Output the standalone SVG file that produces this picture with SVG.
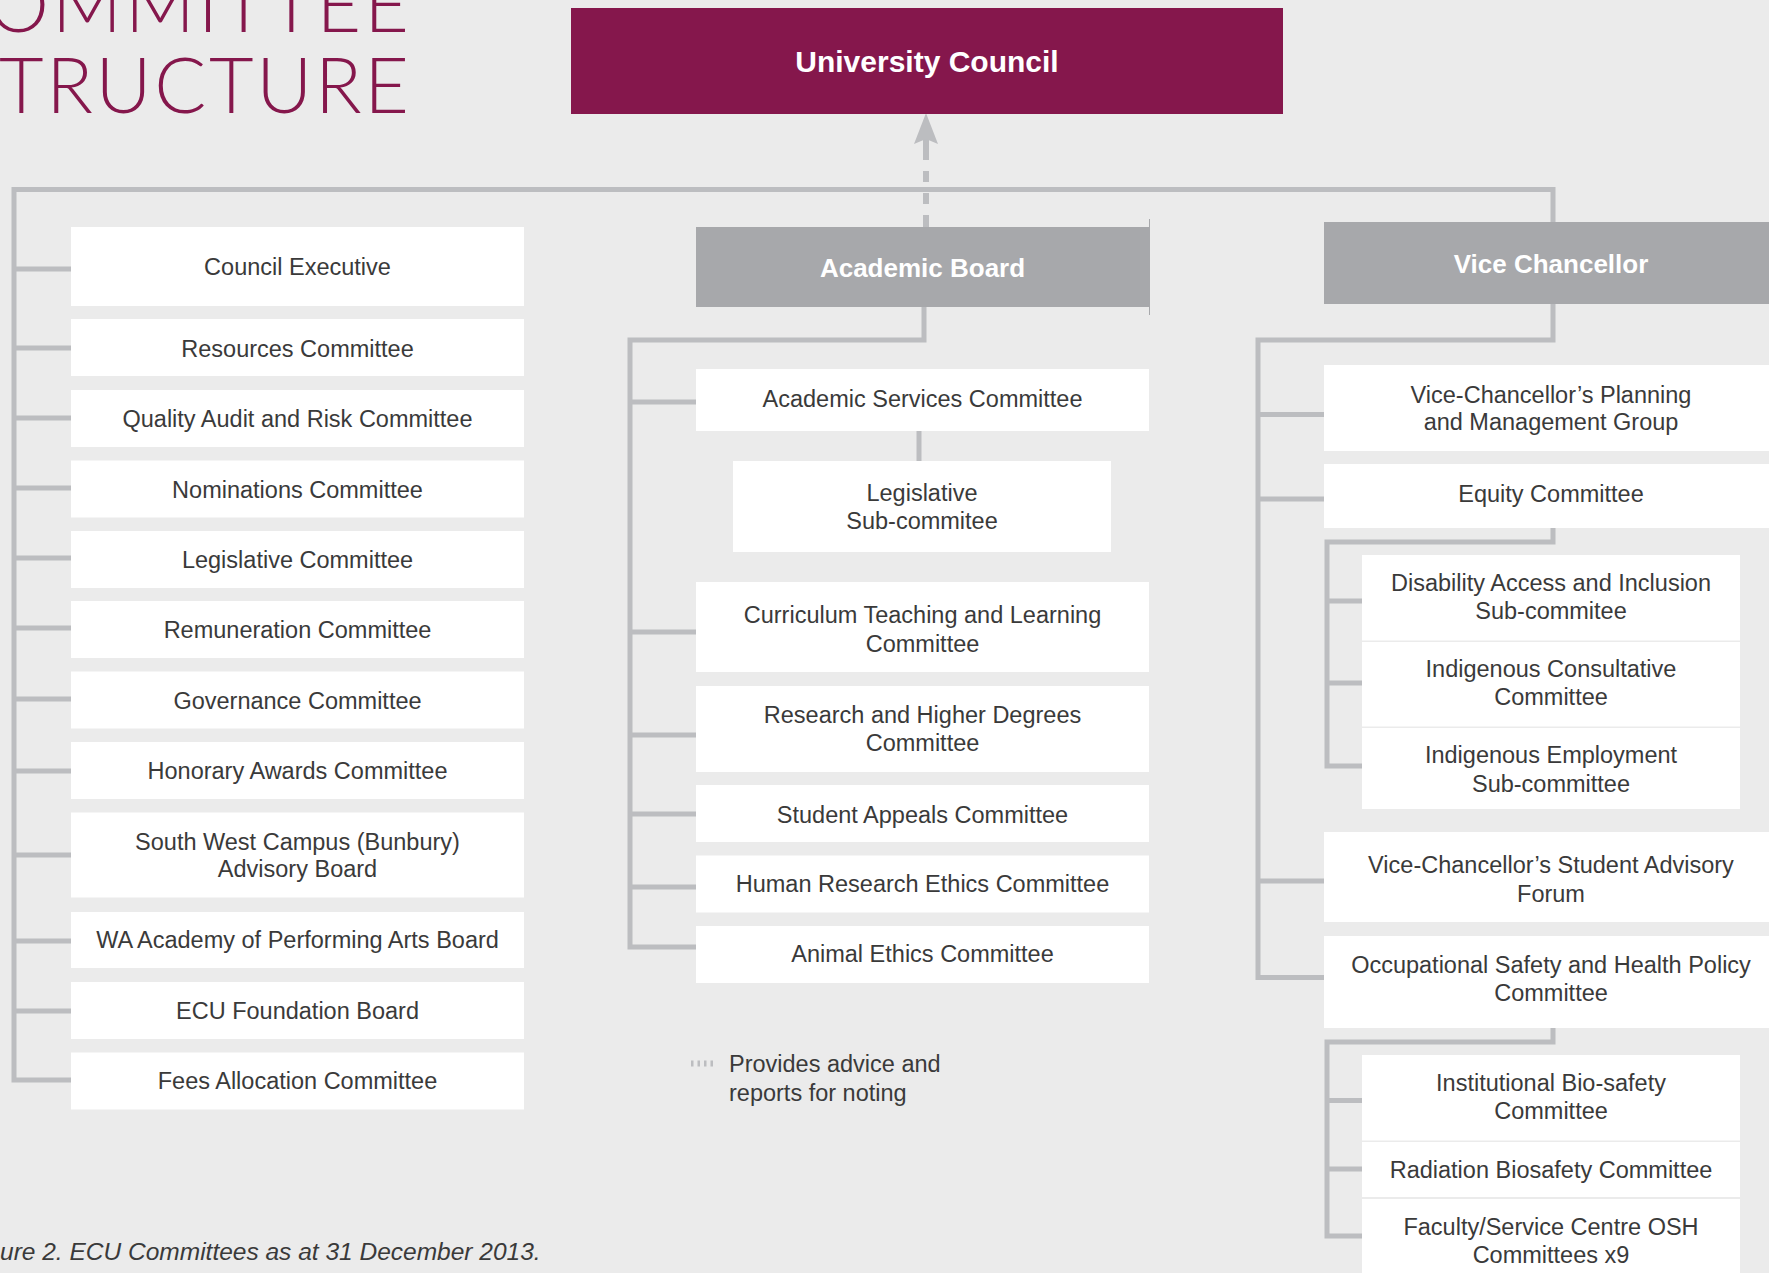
<svg xmlns="http://www.w3.org/2000/svg" width="1769" height="1273" viewBox="0 0 1769 1273">
<style>
.bg{fill:#ebebeb}
.box{fill:#ffffff}
.hdr{fill:#a7a8ab}
.uc{fill:#85174c}
.lbl{font-family:"Liberation Sans",Arial,sans-serif;font-size:23.5px;fill:#3a3a3a;text-anchor:middle}
.hl{font-family:"Liberation Sans",Arial,sans-serif;font-weight:bold;fill:#ffffff;text-anchor:middle}
.conn{fill:none;stroke:#bcbdc0;stroke-width:5;stroke-linejoin:miter;stroke-linecap:butt}
.title{font-family:Lato,"Open Sans",sans-serif;font-weight:300;font-size:77px;fill:#85174c}
.leg{font-family:"Liberation Sans",Arial,sans-serif;font-size:23.5px;fill:#3a3a3a}
.cap{font-family:"Liberation Sans",Arial,sans-serif;font-size:24.5px;font-style:italic;fill:#3a3a3a}
</style>
<rect class="bg" x="0" y="0" width="1769" height="1273"/>

<g id="title">
<text class="title" x="-12" y="32" textLength="421" lengthAdjust="spacing">OMMITTEE</text>
<text class="title" x="-1" y="113" textLength="410" lengthAdjust="spacing">TRUCTURE</text>
</g>

<g id="connectors">
<path class="conn" d="M71,1080 H14 V189.5 H1553 V222"/>
<path class="conn" d="M14,269 H71 M14,348 H71 M14,418 H71 M14,488 H71 M14,558 H71 M14,628 H71 M14,699 H71 M14,771 H71 M14,855 H71 M14,941 H71 M14,1011 H71"/>
<path class="conn" d="M924,307 V340 H630 V947 H696"/>
<path class="conn" d="M630,402 H696 M630,632 H696 M630,735 H696 M630,814 H696 M630,887 H696"/>
<path class="conn" d="M919,431 V461"/>
<path class="conn" d="M1553,304 V340 H1258 V977.5 H1324"/>
<path class="conn" d="M1258,414.5 H1324 M1258,499 H1324 M1258,881 H1324"/>
<path class="conn" d="M1553,528 V542 H1327 V766 H1362 M1327,601 H1362 M1327,683 H1362"/>
<path class="conn" d="M1553,1028 V1042 H1327 V1236 H1362 M1327,1100.5 H1362 M1327,1169 H1362"/>
<path fill="none" stroke="#bcbdc0" stroke-width="6" d="M926,227 V215 M926,204 V193 M926,182 V171 M926,160 V138"/>
<polygon fill="#bcbdc0" points="926,113 938,144 926,139 914,144"/>
<line x1="691" y1="1063.5" x2="716" y2="1063.5" stroke="#bcbdc0" stroke-width="6" stroke-dasharray="2.5 4"/>
</g>

<g id="university-council">
<rect class="uc" x="571" y="8" width="712" height="106"/>
<text class="hl" x="927" y="72" font-size="30">University Council</text>
</g>

<g id="academic-board">
<rect class="hdr" x="696" y="227" width="453" height="80"/>
<line x1="1149.5" y1="219" x2="1149.5" y2="315" stroke="#a7a8ab" stroke-width="1"/>
<text class="hl" x="922.5" y="277" font-size="26">Academic Board</text>
</g>

<g id="vice-chancellor">
<rect class="hdr" x="1324" y="222" width="454" height="82"/>
<text class="hl" x="1551" y="273" font-size="26">Vice Chancellor</text>
</g>

<g id="council-executive"><rect class="box" x="71" y="227" width="453" height="79"/><text class="lbl" x="297.5" y="275">Council Executive</text></g>
<g id="resources-committee"><rect class="box" x="71" y="319" width="453" height="57"/><text class="lbl" x="297.5" y="356.5">Resources Committee</text></g>
<g id="quality-audit"><rect class="box" x="71" y="390" width="453" height="57"/><text class="lbl" x="297.5" y="427">Quality Audit and Risk Committee</text></g>
<g id="nominations"><rect class="box" x="71" y="460.5" width="453" height="57"/><text class="lbl" x="297.5" y="497.5">Nominations Committee</text></g>
<g id="legislative-committee"><rect class="box" x="71" y="531" width="453" height="57"/><text class="lbl" x="297.5" y="568">Legislative Committee</text></g>
<g id="remuneration"><rect class="box" x="71" y="601" width="453" height="57"/><text class="lbl" x="297.5" y="638">Remuneration Committee</text></g>
<g id="governance"><rect class="box" x="71" y="671.5" width="453" height="57"/><text class="lbl" x="297.5" y="708.5">Governance Committee</text></g>
<g id="honorary-awards"><rect class="box" x="71" y="742" width="453" height="57"/><text class="lbl" x="297.5" y="779">Honorary Awards Committee</text></g>
<g id="south-west-campus"><rect class="box" x="71" y="812.5" width="453" height="85"/><text class="lbl" x="297.5" y="850">South West Campus (Bunbury)</text><text class="lbl" x="297.5" y="877">Advisory Board</text></g>
<g id="waapa"><rect class="box" x="71" y="912" width="453" height="56"/><text class="lbl" x="297.5" y="948">WA Academy of Performing Arts Board</text></g>
<g id="ecu-foundation"><rect class="box" x="71" y="982" width="453" height="57"/><text class="lbl" x="297.5" y="1019">ECU Foundation Board</text></g>
<g id="fees-allocation"><rect class="box" x="71" y="1052.5" width="453" height="57"/><text class="lbl" x="297.5" y="1089">Fees Allocation Committee</text></g>

<g id="academic-services"><rect class="box" x="696" y="369" width="453" height="62"/><text class="lbl" x="922.5" y="407">Academic Services Committee</text></g>
<g id="legislative-sub"><rect class="box" x="733" y="461" width="378" height="91"/><text class="lbl" x="922" y="501">Legislative</text><text class="lbl" x="922" y="529">Sub-commitee</text></g>
<g id="curriculum"><rect class="box" x="696" y="582" width="453" height="90"/><text class="lbl" x="922.5" y="623">Curriculum Teaching and Learning</text><text class="lbl" x="922.5" y="651.5">Committee</text></g>
<g id="research-higher"><rect class="box" x="696" y="686" width="453" height="86"/><text class="lbl" x="922.5" y="722.5">Research and Higher Degrees</text><text class="lbl" x="922.5" y="751">Committee</text></g>
<g id="student-appeals"><rect class="box" x="696" y="785" width="453" height="57"/><text class="lbl" x="922.5" y="822.5">Student Appeals Committee</text></g>
<g id="human-research"><rect class="box" x="696" y="855.5" width="453" height="57"/><text class="lbl" x="922.5" y="892">Human Research Ethics Committee</text></g>
<g id="animal-ethics"><rect class="box" x="696" y="926" width="453" height="57"/><text class="lbl" x="922.5" y="962">Animal Ethics Committee</text></g>

<g id="vc-planning"><rect class="box" x="1324" y="365" width="454" height="86"/><text class="lbl" x="1551" y="403">Vice-Chancellor’s Planning</text><text class="lbl" x="1551" y="430">and Management Group</text></g>
<g id="equity"><rect class="box" x="1324" y="464" width="454" height="64"/><text class="lbl" x="1551" y="502">Equity Committee</text></g>
<g id="disability"><rect class="box" x="1362" y="555" width="378" height="85.5"/><text class="lbl" x="1551" y="591">Disability Access and Inclusion</text><text class="lbl" x="1551" y="619">Sub-commitee</text></g>
<g id="indigenous-consultative"><rect class="box" x="1362" y="642" width="378" height="84.5"/><text class="lbl" x="1551" y="676.5">Indigenous Consultative</text><text class="lbl" x="1551" y="705">Committee</text></g>
<g id="indigenous-employment"><rect class="box" x="1362" y="728" width="378" height="81"/><text class="lbl" x="1551" y="763">Indigenous Employment</text><text class="lbl" x="1551" y="791.5">Sub-committee</text></g>
<g id="vc-student-advisory"><rect class="box" x="1324" y="832" width="454" height="90"/><text class="lbl" x="1551" y="873">Vice-Chancellor’s Student Advisory</text><text class="lbl" x="1551" y="901.5">Forum</text></g>
<g id="osh-policy"><rect class="box" x="1324" y="936" width="454" height="92"/><text class="lbl" x="1551" y="972.5">Occupational Safety and Health Policy</text><text class="lbl" x="1551" y="1001">Committee</text></g>
<g id="bio-safety"><rect class="box" x="1362" y="1055" width="378" height="85.5"/><text class="lbl" x="1551" y="1090.5">Institutional Bio-safety</text><text class="lbl" x="1551" y="1119">Committee</text></g>
<g id="radiation"><rect class="box" x="1362" y="1142" width="378" height="55"/><text class="lbl" x="1551" y="1177.5">Radiation Biosafety Committee</text></g>
<g id="faculty-osh"><rect class="box" x="1362" y="1199" width="378" height="80"/><text class="lbl" x="1551" y="1235">Faculty/Service Centre OSH</text><text class="lbl" x="1551" y="1263">Committees x9</text></g>

<g id="legend">
<text class="leg" x="729" y="1072">Provides advice and</text>
<text class="leg" x="729" y="1101">reports for noting</text>
</g>
<g id="caption">
<text class="cap" x="0" y="1260">ure 2. ECU Committees as at 31 December 2013.</text>
</g>
</svg>
